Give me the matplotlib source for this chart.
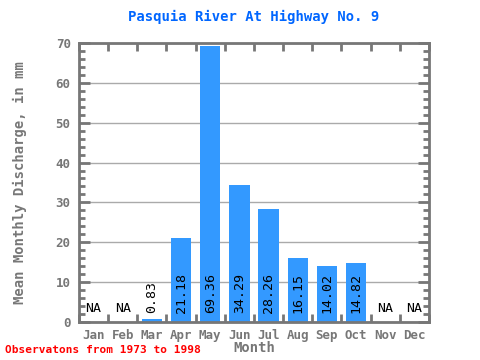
import numpy as np
import matplotlib
matplotlib.use("Agg")
import matplotlib.pyplot as plt
from matplotlib.ticker import MultipleLocator

months = ["Jan", "Feb", "Mar", "Apr", "May", "Jun", "Jul", "Aug", "Sep", "Oct", "Nov", "Dec"]
discharge = [None, None, 0.83, 21.18, 69.36, 34.29, 28.26, 16.15, 14.02, 14.82, None, None]

plt.rcParams['font.family'] = ['DejaVu Sans Mono']
fig = plt.figure(figsize=(4.8, 3.6), dpi=100)
ax = fig.add_axes([0.1646, 0.1056, 0.729, 0.775])

x = np.arange(len(months))
vals = [v if v is not None else 0 for v in discharge]
ax.bar(x, vals, width=0.7, color='#3399ff', zorder=2)

for i, v in enumerate(discharge):
    if v is None:
        ax.text(i, 3.5, "NA", ha='center', va='center', fontsize=9.5, color='black', zorder=3)
    else:
        ax.text(i, 2.2, f"{v:.2f}", ha='center', va='bottom', rotation=90, fontsize=9.5,
                color='black', zorder=3)

ax.set_xlim(-0.5, 11.5)
ax.set_ylim(0, 70)
ax.yaxis.set_major_locator(MultipleLocator(10))
ax.yaxis.set_minor_locator(MultipleLocator(2))
ax.set_xticks(x)
ax.set_xticklabels(months)
ax.set_xticks(np.arange(-0.5, 12, 1), minor=True)
ax.grid(axis='y', which='major', color='#aaaaaa', linewidth=1, zorder=1)

gray = '#777777'
for s in ax.spines.values():
    s.set_color(gray)
    s.set_linewidth(2)
ax.tick_params(axis='x', which='major', length=0, labelsize=9, labelcolor=gray, pad=5)
ax.tick_params(axis='x', which='minor', direction='in', length=6, width=2, color=gray,
               top=True, bottom=True)
ax.tick_params(axis='y', which='major', direction='in', length=8, width=2, color=gray,
               labelsize=9, labelcolor=gray, left=True, right=True, pad=6)
ax.tick_params(axis='y', which='minor', direction='in', length=4, width=2, color=gray,
               left=True, right=True)
for lab in ax.get_xticklabels() + ax.get_yticklabels():
    lab.set_fontweight('bold')

ax.set_xlabel("Month", fontsize=10, color=gray, fontweight='bold', labelpad=-1)
ax.set_ylabel("Mean Monthly Discharge, in mm", fontsize=10, color=gray, fontweight='bold', labelpad=21)
ax.set_title("Pasquia River At Highway No. 9", fontsize=10, color='#0066ff', fontweight='bold', pad=16)

fig.text(0.01, 0.02, "Observatons from 1973 to 1998", color='red', fontsize=8, fontweight='bold')

fig.savefig("out.png", dpi=100)
